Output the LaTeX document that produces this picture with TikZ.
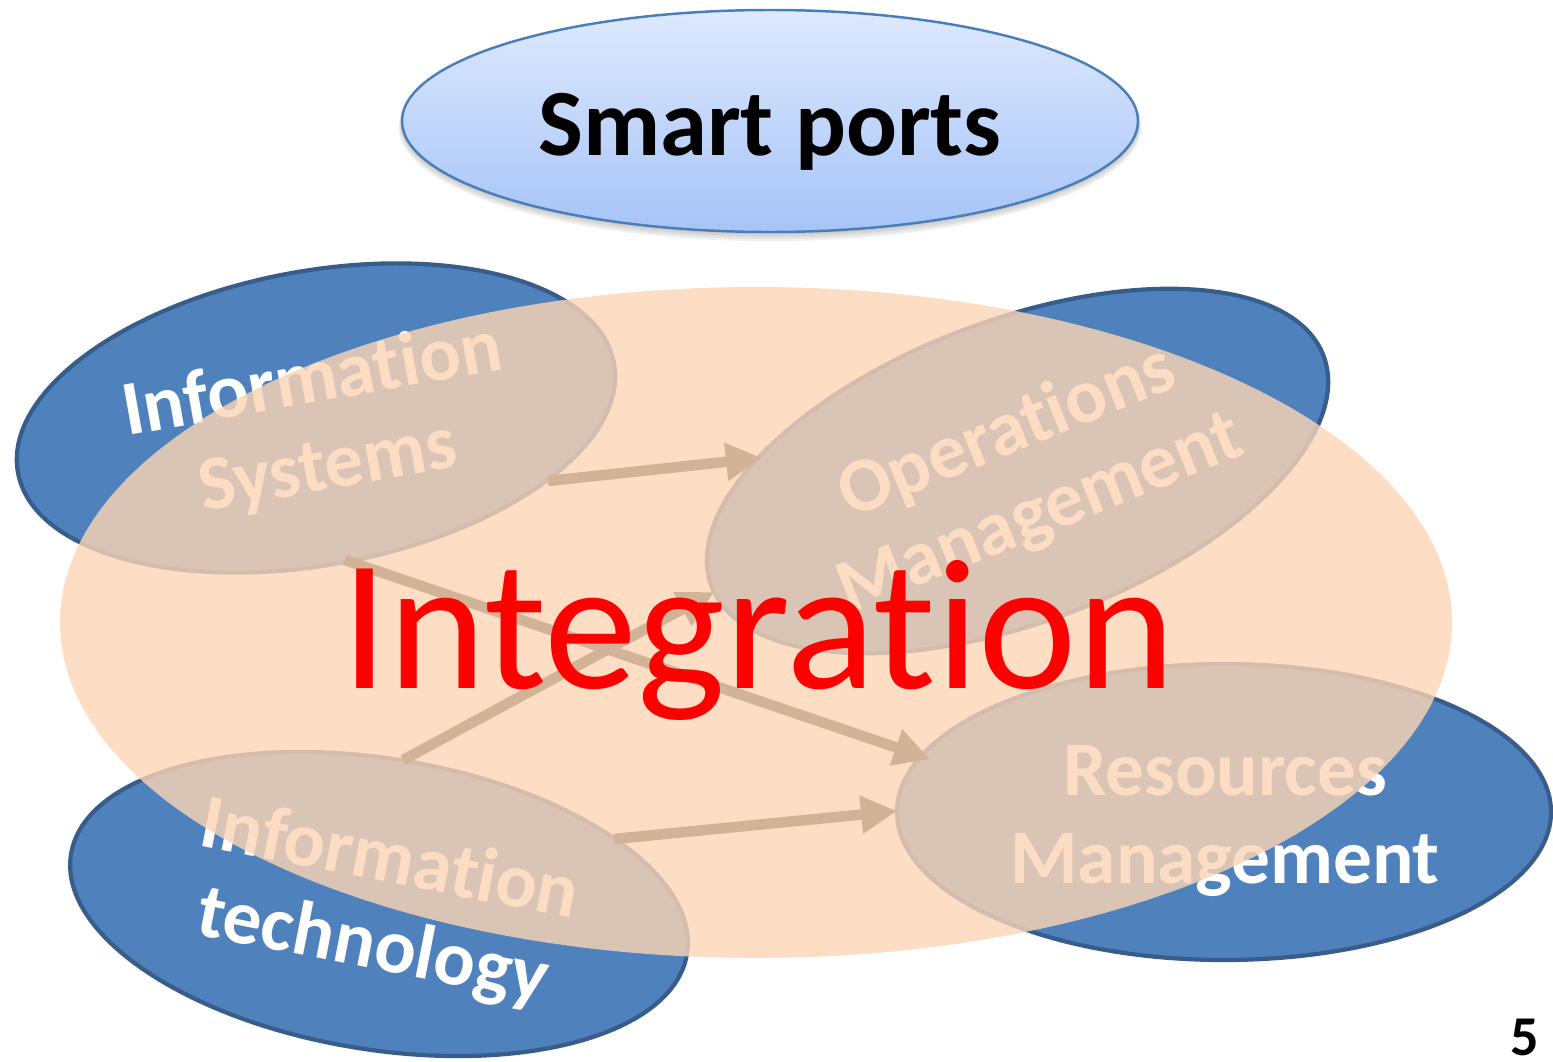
\documentclass[tikz,border=0pt]{standalone}
\usepackage{fontspec}
\setmainfont{Carlito}[Ligatures={NoCommon,NoContextual,NoRequired}]
\usetikzlibrary{shapes.geometric,arrows.meta}
\newcommand{\nolig}{\kern0pt }
\definecolor{blueFill}{HTML}{4F81BD}
\definecolor{blueEdge}{HTML}{385D8A}
\definecolor{peach}{HTML}{FCD5B5}
\definecolor{arrowTan}{HTML}{D3B398}
\definecolor{topTop}{HTML}{DEE9FD}
\definecolor{topBot}{HTML}{A6C4F8}
\definecolor{topEdge}{HTML}{4A7EBB}
\begin{document}
\begin{tikzpicture}[
  blueell/.style={ellipse, draw=blueEdge, fill=blueFill, line width=1.2pt, inner sep=0pt},
  labeltext/.style={text=white, font=\bfseries\fontsize{22}{25}\selectfont, align=center, inner sep=0pt},
  flowarrow/.style={draw=arrowTan, line width=3pt, -{Triangle[length=0.36cm,width=0.36cm]}},
  shadowlayer/.style={fill=black, opacity=0.06},
]
\useasboundingbox (0,0) rectangle (15.53,10.61);
% top ellipse with soft shadow
\foreach \i in {1,2,3,4}{
  \fill[shadowlayer] (7.70,{9.40-0.015*\i}) ellipse ({3.68+0.008*\i} and {1.11+0.008*\i});
}
\node[ellipse, minimum width=7.36cm, minimum height=2.22cm, inner sep=0pt,
      top color=topTop, bottom color=topBot, draw=topEdge, line width=0.7pt] (smart) at (7.70,9.40) {};
\node[font=\bfseries\fontsize{27}{30}\selectfont, anchor=base] (smarttxt) at (7.70,9.06) {Smart ports};
% blue ellipses
\node[blueell, minimum width=6.06cm, minimum height=2.94cm, rotate=10.4] (is) at (3.16,6.43) {};
\node[blueell, minimum width=6.54cm, minimum height=3.02cm, rotate=20.6] (om) at (10.175,5.90) {};
\node[blueell, minimum width=6.24cm, minimum height=2.91cm, rotate=-9.2] (it) at (3.79,1.57) {};
\node[blueell, minimum width=6.54cm, minimum height=2.96cm] (rm) at (12.24,2.49) {};
% labels
\node[labeltext, rotate=10] (istxt) at (3.20,6.36) {Informat\nolig ion\\Systems};
\node[labeltext, rotate=22] (omtxt) at (10.24,5.87) {Operat\nolig ions\\Management};
\node[labeltext, rotate=-11] (ittxt) at (3.81,1.56) {Informat\nolig ion\\technology};
\node[labeltext] (rmtxt) at (12.25,2.40) {Resources\\Management};
% big translucent ellipse
\node[ellipse, fill=peach, fill opacity=0.8, minimum width=13.92cm, minimum height=6.71cm, inner sep=0pt] (integ) at (7.56,4.385) {};
% arrows
\coordinate (a1s) at (5.48,5.80);
\coordinate (a1e) at (7.62,6.03);
\coordinate (a2s) at (3.45,5.01);
\coordinate (a2e) at (9.30,3.02);
\coordinate (a3s) at (4.03,3.01);
\coordinate (a3e) at (7.14,4.69);
\coordinate (a4s) at (6.14,2.22);
\coordinate (a4e) at (8.97,2.50);
\draw[flowarrow] (a1s) -- (a1e);
\draw[flowarrow] (a2s) -- (a2e);
\draw[flowarrow] (a3s) -- (a3e);
\draw[flowarrow] (a4s) -- (a4e);
% central text
\node[text=red, font=\fontsize{53}{58}\selectfont, anchor=base] (inttxt) at (7.58,3.73) {Integrat\nolig ion};
% page number
\node[font=\bfseries\fontsize{16}{18}\selectfont, anchor=base, inner sep=0pt] (pg) at (15.25,0.06) {5};
\end{tikzpicture}
\end{document}
